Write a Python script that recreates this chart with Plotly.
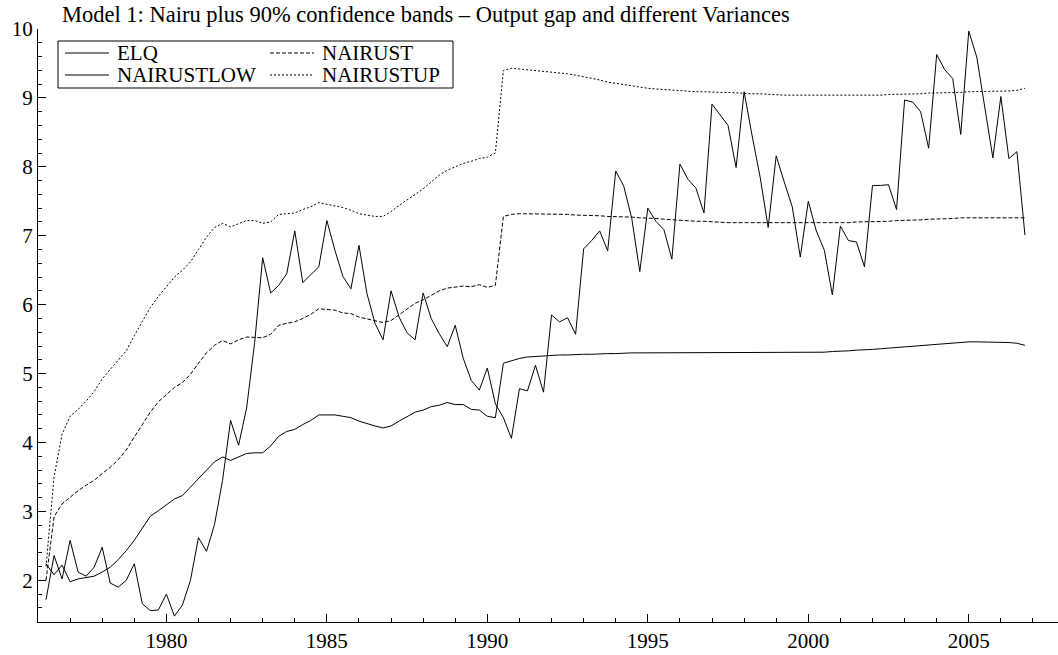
import plotly.graph_objects as go

# ---- data (quarterly, 1976Q2 - 2006Q4) ----
start_year = 1976
start_quarter = 2

elq = [1.72, 2.36, 2.02, 2.58, 2.12, 2.06, 2.19, 2.48, 1.96, 1.90,
       2.00, 2.24, 1.66, 1.56, 1.57, 1.80, 1.48, 1.64, 2.00, 2.62,
       2.42, 2.81, 3.45, 4.32, 3.96, 4.50, 5.45, 6.68, 6.17, 6.28,
       6.45, 7.07, 6.32, 6.44, 6.55, 7.22, 6.79, 6.41, 6.23, 6.86,
       6.16, 5.73, 5.49, 6.20, 5.82, 5.59, 5.49, 6.17, 5.80, 5.58,
       5.39, 5.70, 5.22, 4.90, 4.76, 5.08, 4.56, 4.36, 4.06, 4.78,
       4.75, 5.12, 4.73, 5.85, 5.75, 5.81, 5.57, 6.81, 6.93, 7.07,
       6.78, 7.94, 7.72, 7.25, 6.48, 7.40, 7.21, 7.09, 6.66, 8.04,
       7.82, 7.69, 7.33, 8.91, 8.76, 8.60, 7.99, 9.09, 8.45, 7.85,
       7.12, 8.16, 7.78, 7.42, 6.69, 7.50, 7.07, 6.79, 6.14, 7.14,
       6.93, 6.91, 6.55, 7.73, 7.73, 7.74, 7.38, 8.97, 8.94, 8.80,
       8.27, 9.63, 9.41, 9.28, 8.47, 9.97, 9.59, 8.85, 8.13, 9.02,
       8.12, 8.22, 7.01]

nairust = [2.00, 2.92, 3.11, 3.21, 3.30, 3.38, 3.45, 3.55, 3.64, 3.75,
           3.89, 4.08, 4.26, 4.44, 4.59, 4.69, 4.80, 4.87, 4.99, 5.15,
           5.30, 5.41, 5.48, 5.43, 5.49, 5.53, 5.53, 5.52, 5.57, 5.70,
           5.73, 5.75, 5.80, 5.86, 5.94, 5.93, 5.92, 5.88, 5.87, 5.82,
           5.79, 5.76, 5.74, 5.77, 5.85, 5.94, 6.02, 6.07, 6.14, 6.20,
           6.24, 6.25, 6.27, 6.26, 6.29, 6.25, 6.28, 7.28, 7.31, 7.32,
           7.32, 7.32, 7.32, 7.31, 7.31, 7.31, 7.30, 7.30, 7.29, 7.29,
           7.28, 7.28, 7.27, 7.27, 7.26, 7.26, 7.25, 7.24, 7.23, 7.23,
           7.22, 7.21, 7.21, 7.20, 7.20, 7.19, 7.19, 7.19, 7.18, 7.18,
           7.18, 7.18, 7.18, 7.18, 7.18, 7.18, 7.19, 7.19, 7.19, 7.19,
           7.19, 7.20, 7.20, 7.20, 7.21, 7.21, 7.22, 7.22, 7.23, 7.23,
           7.24, 7.24, 7.25, 7.25, 7.26, 7.26, 7.26, 7.26, 7.26, 7.26,
           7.26, 7.26, 7.26]

nairustlow = [2.24, 2.08, 2.22, 1.98, 2.02, 2.04, 2.06, 2.12, 2.19, 2.30,
              2.43, 2.58, 2.75, 2.93, 3.01, 3.10, 3.18, 3.23, 3.35, 3.48,
              3.60, 3.72, 3.79, 3.74, 3.79, 3.84, 3.85, 3.85, 3.95, 4.09,
              4.16, 4.19, 4.26, 4.32, 4.40, 4.40, 4.40, 4.38, 4.36, 4.31,
              4.27, 4.24, 4.21, 4.24, 4.31, 4.38, 4.44, 4.47, 4.52, 4.54,
              4.58, 4.55, 4.55, 4.48, 4.47, 4.38, 4.36, 5.15, 5.19, 5.22,
              5.24, 5.25, 5.26, 5.27, 5.27, 5.27, 5.28, 5.28, 5.28, 5.29,
              5.29, 5.29, 5.30, 5.30, 5.30, 5.30, 5.30, 5.31, 5.31, 5.31,
              5.31, 5.31, 5.31, 5.31, 5.31, 5.31, 5.31, 5.31, 5.31, 5.30,
              5.30, 5.30, 5.30, 5.30, 5.30, 5.30, 5.31, 5.31, 5.32, 5.32,
              5.33, 5.34, 5.34, 5.35, 5.36, 5.37, 5.38, 5.39, 5.40, 5.41,
              5.42, 5.43, 5.44, 5.45, 5.45, 5.46, 5.46, 5.46, 5.46, 5.46,
              5.45, 5.44, 5.41]

nairustup = [2.20, 3.50, 4.12, 4.38, 4.48, 4.60, 4.74, 4.92, 5.06, 5.20,
             5.33, 5.55, 5.76, 5.96, 6.12, 6.26, 6.40, 6.50, 6.62, 6.80,
             6.98, 7.12, 7.18, 7.13, 7.18, 7.22, 7.22, 7.18, 7.20, 7.31,
             7.32, 7.33, 7.38, 7.42, 7.48, 7.46, 7.44, 7.41, 7.37, 7.32,
             7.30, 7.28, 7.28, 7.35, 7.44, 7.52, 7.60, 7.68, 7.78, 7.88,
             7.95, 8.00, 8.05, 8.08, 8.12, 8.14, 8.20, 9.40, 9.43, 9.42,
             9.41, 9.40, 9.39, 9.38, 9.37, 9.35, 9.33, 9.31, 9.29, 9.26,
             9.23, 9.21, 9.19, 9.17, 9.15, 9.14, 9.13, 9.12, 9.11, 9.10,
             9.10, 9.09, 9.09, 9.08, 9.08, 9.08, 9.07, 9.07, 9.06, 9.06,
             9.05, 9.05, 9.04, 9.04, 9.04, 9.03, 9.03, 9.03, 9.03, 9.03,
             9.03, 9.03, 9.04, 9.04, 9.04, 9.05, 9.05, 9.05, 9.06, 9.06,
             9.07, 9.07, 9.08, 9.08, 9.08, 9.09, 9.09, 9.09, 9.10, 9.10,
             9.10, 9.11, 9.14]

series_names = ["ELQ", "NAIRUST", "NAIRUSTLOW", "NAIRUSTUP"]
year_ticks = [1980, 1985, 1990, 1995, 2000, 2005]
title_text = "Model 1: Nairu plus 90% confidence bands \u2013 Output gap and different Variances"

# time index (decimal years, quarterly)
t = [start_year + (start_quarter - 1) / 4 + k / 4 for k in range(len(elq))]

FONT = "Liberation Serif"
W, H = 1058, 655
ML, MR, MT, MB = 38, 0, 29, 33
PW, PH = W - ML - MR, H - MT - MB

dash_styles = {"ELQ": "solid", "NAIRUST": "4px,2px",
               "NAIRUSTLOW": "solid", "NAIRUSTUP": "2px,2px"}
values = {"ELQ": elq, "NAIRUST": nairust,
          "NAIRUSTLOW": nairustlow, "NAIRUSTUP": nairustup}

fig = go.Figure()
for name in series_names:
    fig.add_trace(go.Scatter(x=t, y=values[name], name=name, mode="lines",
                             showlegend=False,
                             line=dict(color="black", width=1, dash=dash_styles[name])))

# ---- legend box drawn in paper coordinates (two columns, bordered) ----
def px(xp):
    return (xp - ML) / PW

def py(yp):
    return (H - MB - yp) / PH

shapes = [dict(type="rect", xref="paper", yref="paper",
               x0=px(58), x1=px(453), y0=py(88), y1=py(41),
               line=dict(color="black", width=1), fillcolor="white", layer="above")]
annotations = []
legend_slots = {"ELQ": (65, 53), "NAIRUSTLOW": (65, 75),
                "NAIRUST": (270, 53), "NAIRUSTUP": (270, 75)}
for name in series_names:
    lx, ly = legend_slots[name]
    shapes.append(dict(type="line", xref="paper", yref="paper",
                       x0=px(lx), x1=px(lx + 44), y0=py(ly), y1=py(ly),
                       line=dict(color="black", width=1, dash=dash_styles[name]),
                       layer="above"))
    annotations.append(dict(text=name, xref="paper", yref="paper",
                            x=px(lx + 50), y=py(ly), xanchor="left", yanchor="middle",
                            showarrow=False,
                            font=dict(family=FONT, size=21, color="black")))

axis_common = dict(showline=True, linecolor="black", linewidth=1, showgrid=False,
                   zeroline=False, ticks="inside", ticklen=8, tickwidth=1,
                   tickcolor="black", tickfont=dict(family=FONT, size=21, color="black"))

fig.update_layout(
    width=W, height=H,
    margin=dict(l=ML, r=MR, t=MT, b=MB),
    paper_bgcolor="white", plot_bgcolor="white",
    font=dict(family=FONT, color="black", size=20),
    showlegend=False,
    title=dict(text=title_text, xref="container", x=62 / W, xanchor="left",
               yref="container", y=1 - 14 / H, yanchor="middle",
               font=dict(family=FONT, size=22.5, color="black")),
    shapes=shapes,
    annotations=annotations,
    xaxis=dict(range=[1976.0, 2007.78], tickmode="array", tickvals=year_ticks,
               minor=dict(ticks="inside", ticklen=4, dtick=1, tick0=1976,
                          tickcolor="black", showgrid=False),
               **axis_common),
    yaxis=dict(range=[1.395, 10.0], tickmode="linear", tick0=0, dtick=1,
               minor=dict(ticks="inside", ticklen=4, dtick=0.2, tick0=0,
                          tickcolor="black", showgrid=False),
               **axis_common),
)

fig.write_html("out.html", config={"displayModeBar": False},
               post_script="document.body.style.margin='0';")
